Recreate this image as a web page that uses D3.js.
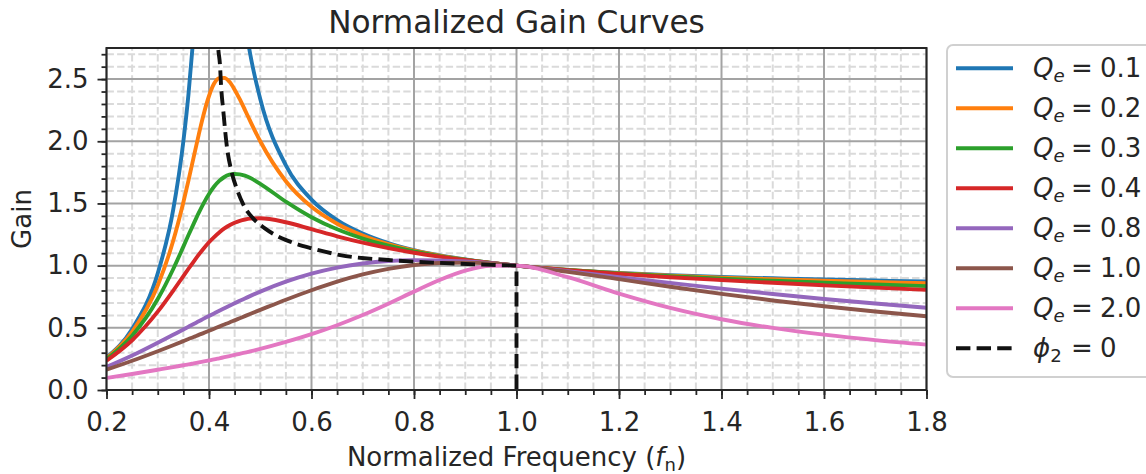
<!DOCTYPE html>
<html>
<head>
<meta charset="utf-8">
<script src="https://cdn.jsdelivr.net/npm/d3@7"></script>
<style>
body { margin: 0; background: #fff; }
svg { display: block; font-family: "DejaVu Sans", sans-serif; }
</style>
</head>
<body>
<div id="chart"></div>
<script>
// Normalized gain curves

//data
var fn = [0.2, 0.25, 0.3, 0.33, 0.35, 0.36, 0.37, 0.38, 0.39, 0.4, 0.41, 0.42, 0.43, 0.44, 0.45, 0.46, 0.47, 0.48,
          0.5, 0.55, 0.6, 0.65, 0.7, 0.75, 0.8, 0.85, 0.9, 0.95, 1.0, 1.1, 1.2, 1.3, 1.4, 1.5, 1.6, 1.7, 1.8];

var gainQ01 = [0.261, 0.491, 0.938, 1.446, 2.0, 2.38, 2.86, 3.43, 4.07, 4.63, 4.92, 4.83, 4.47, 4.03, 3.62, 3.26, 2.96, 2.71,
               2.34, 1.807, 1.531, 1.366, 1.258, 1.181, 1.125, 1.083, 1.049, 1.022, 1.0, 0.966, 0.942, 0.923, 0.909, 0.898, 0.888, 0.880, 0.873];
var gainQ02 = [0.255, 0.468, 0.841, 1.198, 1.510, 1.686, 1.871, 2.054, 2.224, 2.364, 2.464, 2.508, 2.510, 2.478, 2.415, 2.338, 2.253, 2.166,
               2.0, 1.679, 1.473, 1.337, 1.242, 1.173, 1.121, 1.081, 1.048, 1.022, 1.0, 0.966, 0.940, 0.920, 0.904, 0.890, 0.878, 0.868, 0.858];
var gainQ03 = [0.246, 0.436, 0.731, 0.971, 1.153, 1.246, 1.336, 1.424, 1.505, 1.576, 1.636, 1.681, 1.713, 1.731, 1.737, 1.734, 1.723, 1.706,
               1.658, 1.514, 1.389, 1.292, 1.218, 1.160, 1.114, 1.077, 1.047, 1.022, 1.0, 0.965, 0.937, 0.915, 0.895, 0.878, 0.863, 0.848, 0.835];
var gainQ04 = [0.235, 0.400, 0.630, 0.798, 0.916, 0.975, 1.032, 1.088, 1.140, 1.188, 1.230, 1.267, 1.299, 1.325, 1.345, 1.360, 1.371, 1.378,
               1.381, 1.349, 1.293, 1.236, 1.185, 1.141, 1.104, 1.073, 1.045, 1.021, 1.0, 0.964, 0.934, 0.907, 0.884, 0.862, 0.842, 0.823, 0.805];
var gainQ08 = [0.185, 0.277, 0.380, 0.444, 0.487, 0.509, 0.531, 0.552, 0.574, 0.595, 0.616, 0.637, 0.657, 0.678, 0.698, 0.717, 0.736, 0.755,
               0.791, 0.871, 0.935, 0.984, 1.017, 1.037, 1.044, 1.042, 1.033, 1.019, 1.0, 0.956, 0.908, 0.861, 0.815, 0.772, 0.732, 0.695, 0.661];
var gainQ10 = [0.163, 0.235, 0.312, 0.360, 0.393, 0.410, 0.426, 0.443, 0.459, 0.476, 0.493, 0.510, 0.527, 0.543, 0.560, 0.577, 0.594, 0.611,
               0.644, 0.726, 0.802, 0.871, 0.929, 0.974, 1.005, 1.021, 1.024, 1.017, 1.0, 0.950, 0.891, 0.830, 0.773, 0.720, 0.673, 0.631, 0.593];
var gainQ20 = [0.097, 0.129, 0.163, 0.184, 0.199, 0.206, 0.214, 0.222, 0.230, 0.238, 0.246, 0.255, 0.264, 0.273, 0.282, 0.291, 0.300, 0.310,
               0.330, 0.386, 0.449, 0.521, 0.603, 0.694, 0.791, 0.884, 0.959, 0.998, 1.0, 0.907, 0.775, 0.660, 0.569, 0.499, 0.445, 0.401, 0.365];

// zero phase locus (phi_2 = 0)
var phiFn   = [0.416, 0.418, 0.4215, 0.4235, 0.428, 0.4345, 0.444, 0.454, 0.467, 0.486, 0.509, 0.542, 0.56, 0.6, 0.656, 0.75, 0.85, 0.95, 1.0];
var phiGain = [2.9, 2.75, 2.61, 2.45, 2.24, 1.97, 1.755, 1.62, 1.49, 1.38, 1.30, 1.22, 1.19, 1.14, 1.085, 1.045, 1.022, 1.006, 1.0];
var phiDropTo = 0.0;

var qLabels = ["0.1", "0.2", "0.3", "0.4", "0.8", "1.0", "2.0"];
var colors = ["#1f77b4", "#ff7f0e", "#2ca02c", "#d62728", "#9467bd", "#8c564b", "#e377c2"];
var series = [gainQ01, gainQ02, gainQ03, gainQ04, gainQ08, gainQ10, gainQ20];

var xTicks = [0.2, 0.4, 0.6, 0.8, 1.0, 1.2, 1.4, 1.6, 1.8];
var yTicks = [0.0, 0.5, 1.0, 1.5, 2.0, 2.5];

var textColor = "#262626";
var m = [48, 219.5, 84, 106.5]; //top right bottom left
var w = 1146 - m[1] - m[3];
var h = 474 - m[0] - m[2];

//scales
var x = d3.scaleLinear().domain([0.2, 1.8]).range([0, w]);
var y = d3.scaleLinear().domain([0, 2.75]).range([h, 0]);

var svg = d3.select("#chart").append("svg")
	.attr("width", 1146)
	.attr("height", 474);

svg.append("defs").append("clipPath")
	.attr("id", "clip")
	.append("rect")
	.attr("width", w)
	.attr("height", h);

var main = svg.append("g")
	.attr("transform", "translate(" + m[3] + "," + m[0] + ")");

// minor grid (dashed)
main.append("g").selectAll("line")
	.data(x.ticks(32).filter(function(d) {return xTicks.indexOf(+d.toFixed(2)) < 0;}))
	.enter().append("line")
	.attr("x1", function(d) {return x(d);})
	.attr("x2", function(d) {return x(d);})
	.attr("y1", h).attr("y2", 0)
	.attr("stroke", "#dadada").attr("stroke-width", 2)
	.attr("stroke-dasharray", "7.4,3.2");

main.append("g").selectAll("line")
	.data(y.ticks(28).filter(function(d) {return yTicks.indexOf(+d.toFixed(2)) < 0;}))
	.enter().append("line")
	.attr("y1", function(d) {return y(d);})
	.attr("y2", function(d) {return y(d);})
	.attr("x1", 0).attr("x2", w)
	.attr("stroke", "#dadada").attr("stroke-width", 2)
	.attr("stroke-dasharray", "7.4,3.2");

// major grid
main.append("g").selectAll("line")
	.data(xTicks)
	.enter().append("line")
	.attr("x1", function(d) {return x(d);})
	.attr("x2", function(d) {return x(d);})
	.attr("y1", 0).attr("y2", h)
	.attr("stroke", "#a3a3a3").attr("stroke-width", 2);

main.append("g").selectAll("line")
	.data(yTicks)
	.enter().append("line")
	.attr("y1", function(d) {return y(d);})
	.attr("y2", function(d) {return y(d);})
	.attr("x1", 0).attr("x2", w)
	.attr("stroke", "#a3a3a3").attr("stroke-width", 2);

// curves
var line = d3.line()
	.x(function(d) {return x(d[0]);})
	.y(function(d) {return y(d[1]);})
	.curve(d3.curveMonotoneX);

var curves = main.append("g").attr("clip-path", "url(#clip)");

series.forEach(function(s, i) {
	curves.append("path")
		.attr("d", line(fn.map(function(f, j) {return [f, s[j]];})))
		.attr("fill", "none")
		.attr("stroke", colors[i])
		.attr("stroke-width", 3.9)
		.attr("stroke-linejoin", "round");
});

var phiPath = line(phiFn.map(function(f, j) {return [f, phiGain[j]];}))
	+ "L" + x(phiFn[phiFn.length - 1]) + "," + y(phiDropTo);

curves.append("path")
	.attr("d", phiPath)
	.attr("fill", "none")
	.attr("stroke", "#111")
	.attr("stroke-width", 3.9)
	.attr("stroke-dasharray", "14.4,6.2");

// axes
var xAxis = main.append("g")
	.attr("transform", "translate(0," + h + ")")
	.call(d3.axisBottom(x).tickValues(xTicks).tickSize(9).tickFormat(d3.format(".1f")));
xAxis.append("g").call(d3.axisBottom(x).tickValues(x.ticks(32)).tickSize(5).tickFormat(""));

var yAxis = main.append("g")
	.call(d3.axisLeft(y).tickValues(yTicks).tickSize(9).tickPadding(9).tickFormat(d3.format(".1f")));
yAxis.append("g").call(d3.axisLeft(y).tickValues(y.ticks(28)).tickSize(5).tickFormat(""));

main.selectAll(".domain").remove();
main.selectAll(".tick line").attr("stroke", textColor).attr("stroke-width", 1.8);
main.selectAll(".tick text")
	.attr("fill", textColor)
	.style("font-size", "26px")
	.style("font-family", "DejaVu Sans");
xAxis.selectAll(".tick text").attr("y", 41).attr("dy", 0);

// spines
main.append("rect")
	.attr("width", w).attr("height", h)
	.attr("fill", "none")
	.attr("stroke", textColor)
	.attr("stroke-width", 2);

// title and labels
svg.append("text")
	.attr("x", m[3] + w / 2).attr("y", 33)
	.attr("text-anchor", "middle")
	.attr("fill", textColor)
	.style("font-size", "31.2px")
	.text("Normalized Gain Curves");

var xl = svg.append("text")
	.attr("x", m[3] + w / 2).attr("y", 466)
	.attr("text-anchor", "middle")
	.attr("fill", textColor)
	.style("font-size", "26px");
xl.append("tspan").text("Normalized Frequency (");
xl.append("tspan").style("font-style", "italic").text("f");
xl.append("tspan").attr("dy", 5).style("font-size", "18px").text("n");
xl.append("tspan").attr("dy", -5).text(")");

svg.append("text")
	.attr("transform", "translate(31," + (m[0] + h / 2) + ") rotate(-90)")
	.attr("text-anchor", "middle")
	.attr("fill", textColor)
	.style("font-size", "26px")
	.text("Gain");

// legend
var legend = svg.append("g");
legend.append("rect")
	.attr("x", 947).attr("y", 45)
	.attr("width", 230).attr("height", 332)
	.attr("rx", 6).attr("ry", 6)
	.attr("fill", "#fff").attr("fill-opacity", 0.8)
	.attr("stroke", "#d0d0d0").attr("stroke-width", 2);

var rows = qLabels.map(function(q, i) {return {sym: "Q", sub: "e", val: q, color: colors[i], dash: null};});
rows.push({sym: "\u03D5", sub: "2", val: "0", color: "#111", dash: "14.4,6.2"});

rows.forEach(function(r, i) {
	var cy = 68.3 + i * 40;
	legend.append("line")
		.attr("x1", 956).attr("x2", 1013)
		.attr("y1", cy).attr("y2", cy)
		.attr("stroke", r.color)
		.attr("stroke-width", 3.9)
		.attr("stroke-dasharray", r.dash);
	var t = legend.append("text")
		.attr("x", 1033).attr("y", cy + 8.2)
		.attr("fill", textColor)
		.style("font-size", "26px");
	t.append("tspan").style("font-style", "italic").text(r.sym);
	t.append("tspan").attr("dy", 5)
		.style("font-size", "18.2px")
		.style("font-style", r.sub === "e" ? "italic" : "normal")
		.text(r.sub);
	t.append("tspan").attr("x", 1071).attr("dy", -5).text("=");
	t.append("tspan").attr("x", 1100).text(r.val);
});
</script>
</body>
</html>
